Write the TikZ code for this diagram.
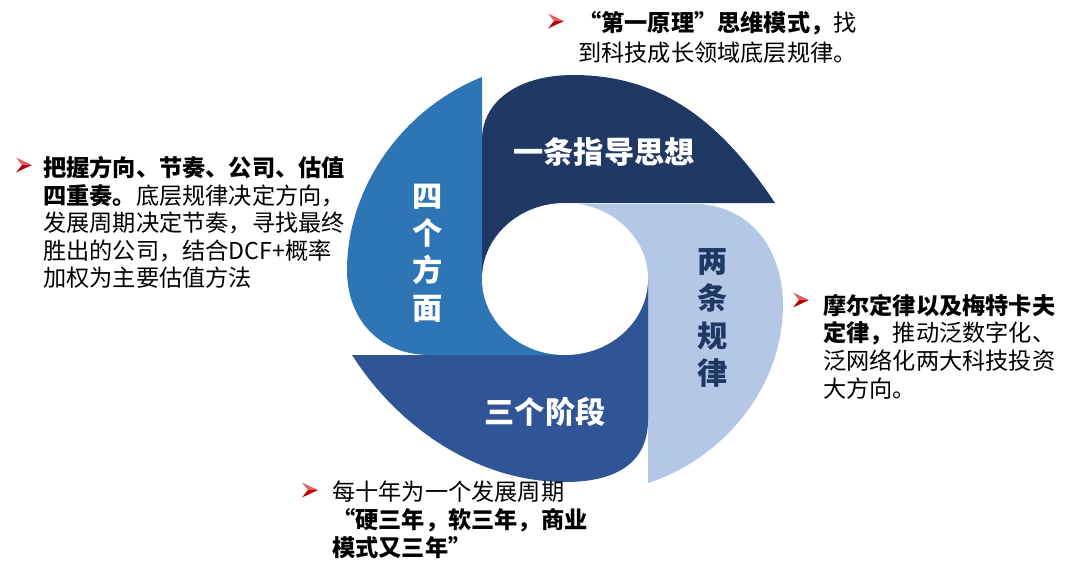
\documentclass[tikz,border=0pt]{standalone}
\usepackage{fontspec}
\setmainfont{Noto Sans CJK SC}
\usetikzlibrary{positioning}

\definecolor{navyblade}{RGB}{32,56,100}
\definecolor{midblade}{RGB}{46,117,182}
\definecolor{paleblade}{RGB}{180,199,231}
\definecolor{deepblade}{RGB}{47,85,151}
\definecolor{bulletred}{RGB}{192,0,0}

\tikzset{
  bladelabel/.style={text=white, font=\fontsize{21.5}{26.5}\selectfont\bfseries, align=center, inner sep=0pt},
  note/.style={anchor=north west, align=left, inner sep=0pt, font=\fontsize{16.5}{19.6}\selectfont},
  arrowbullet/.pic={
    \fill[bulletred!60!white] (-8,-7.5) -- (8,0) -- (-2,0) -- cycle;
    \fill[bulletred] (-8,7.5) -- (8,0) -- (-2,0) -- cycle;
  }
}

\begin{document}
\begin{tikzpicture}[x=0.025cm,y=-0.025cm]
    \useasboundingbox (0,0) rectangle (1080,574);

    % Pinwheel blades
    \fill[navyblade] (482,279) -- (565,279) -- (565,203) -- (775,203)
        .. controls (720,120) and (660,75) .. (573,75)
        .. controls (520,75) and (482,100) .. (482,140) -- cycle;
    \fill[paleblade] (565,279) -- (565,204) -- (700,204)
        .. controls (760,209) and (783,260) .. (783,305)
        .. controls (783,390) and (720,460) .. (648,483) -- (648,279) -- cycle;
    \fill[deepblade] (565,279) -- (648,279) -- (648,420)
        .. controls (648,460) and (620,482) .. (565,482)
        .. controls (480,482) and (400,430) .. (352,355) -- (565,355) -- cycle;
    \fill[midblade] (565,355) -- (430,355)
        .. controls (380,355) and (347,320) .. (347,270)
        .. controls (347,190) and (400,110) .. (482,77) -- (482,279) -- (565,279) -- cycle;
    \fill[white] (565,279) ellipse [x radius=83, y radius=76];

    % Blade labels
    \node[bladelabel] (guide) at (604,152) {一条指导思想};
    \node[bladelabel] (aspects) at (428,253) {四\\个\\方\\面};
    \node[bladelabel, text=navyblade] (laws) at (713,318) {两\\条\\规\\律};
    \node[bladelabel] (stages) at (545,412) {三个阶段};

    % Notes
    \pic at (556,21) {arrowbullet};
    \node[note, font=\fontsize{16.5}{21.3}\selectfont] (guidenote) at (578,11)
        {\textbf{“第一原理”思维模式，}找\\到科技成长领域底层规律。};
    \pic at (24,165) {arrowbullet};
    \node[note] (aspectsnote) at (43,156)
        {\textbf{把握方向、节奏、公司、估值}\\\textbf{四重奏。}底层规律决定方向，\\发展周期决定节奏，寻找最终\\胜出的公司，结合DCF+概率\\加权为主要估值方法};
    \pic at (801,300) {arrowbullet};
    \node[note] (lawsnote) at (823,294)
        {\textbf{摩尔定律以及梅特卡夫}\\\textbf{定律，}推动泛数字化、\\泛网络化两大科技投资\\大方向。};
    \pic at (310,490) {arrowbullet};
    \node[note] (stagesnote) at (332,481)
        {每十年为一个发展周期\\\textbf{“硬三年，软三年，商业}\\\textbf{模式又三年”}};
\end{tikzpicture}
\end{document}
